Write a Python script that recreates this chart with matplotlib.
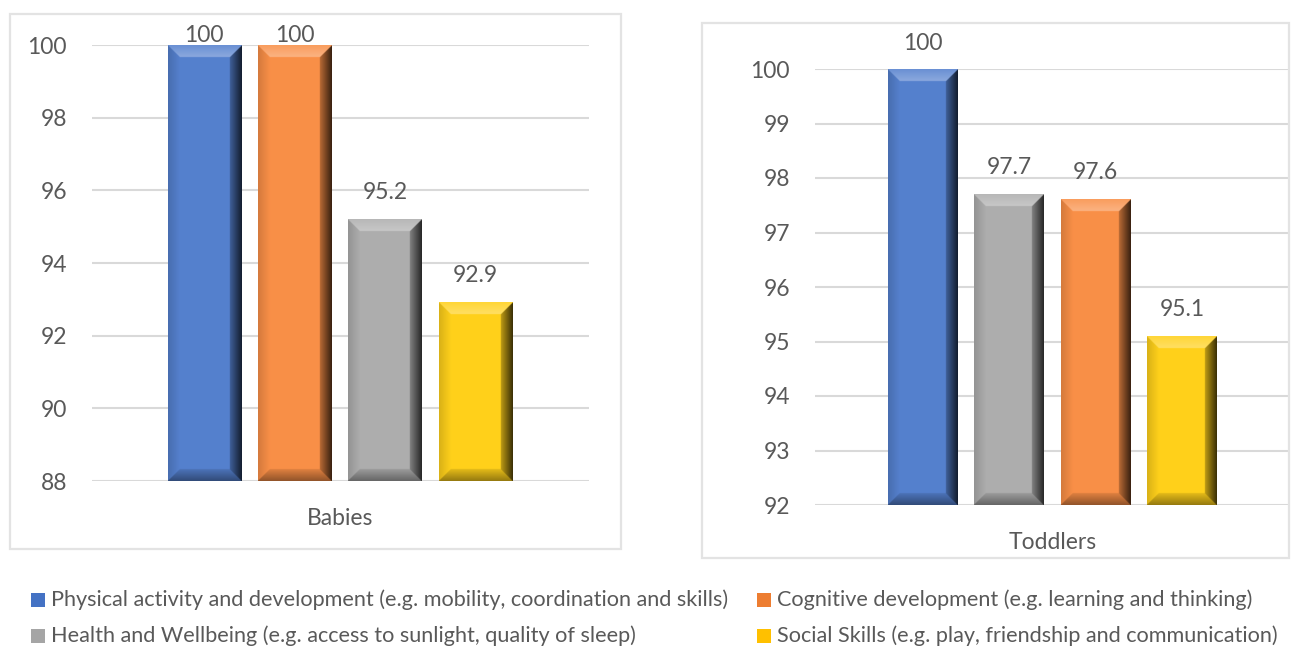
import numpy as np
import matplotlib
matplotlib.use("Agg")
import matplotlib.pyplot as plt
from matplotlib.colors import to_rgb
from matplotlib.patches import Rectangle

# Data
series = ["Physical activity and development (e.g. mobility, coordination and skills)",
          "Cognitive development (e.g. learning and thinking)",
          "Health and Wellbeing (e.g. access to sunlight, quality of sleep)",
          "Social Skills (e.g. play, friendship and communication)"]
colors = ["#4472C4", "#ED7D31", "#A5A5A5", "#FFC000"]

babies_series = [0, 1, 2, 3]
babies_values = [100, 100, 95.2, 92.9]
toddlers_series = [0, 2, 1, 3]
toddlers_values = [100, 97.7, 97.6, 95.1]

W, H = 1294, 650
TXT = "#595959"
GRID = "#D9D9D9"

plt.rcParams["font.family"] = ["Lato", "DejaVu Sans"]
fig = plt.figure(figsize=(W / 100, H / 100), dpi=100)


def px_rect(x0, y0, x1, y1):
    # image pixel box -> figure fraction rect
    return [x0 / W, (H - y1) / H, (x1 - x0) / W, (y1 - y0) / H]


def bevel_image(color, w, h, b=12, s=2):
    rgb = np.array(to_rgb(color))
    rgb = rgb * 0.9 + np.array([1.0, 1.0, 1.0]) * 0.1 * rgb.max()  # lit front face
    rgb = np.clip(rgb * 1.05, 0, 1)
    w, h, b = int(w * s), int(h * s), b * s
    ys, xs = np.mgrid[0:h, 0:w] + 0.5
    d = np.stack([h - ys, w - xs, ys, xs])  # top, right, bottom, left
    face = d.argmin(0)
    t = np.clip(d.min(0) / b, 0, 1)
    img = np.tile(rgb, (h, w, 1))
    inside = d.min(0) < b
    # (target, amount at edge, amount at inner side)
    shade = [(1.0, 0.12, 0.32), (0.0, 0.78, 0.25), (0.0, 0.42, 0.10), (0.0, 0.15, 0.0)]
    for k, (tgt, a0, a1) in enumerate(shade):
        m = inside & (face == k)
        amt = (a0 + (a1 - a0) * t[m])[:, None]
        img[m] = img[m] * (1 - amt) + tgt * amt
    return img


def draw_panel(ax_box, frame_box, ylim, ystep, xlim, cat, idx, vals):
    fig.add_artist(Rectangle((frame_box[0], frame_box[1]), frame_box[2], frame_box[3],
                             transform=fig.transFigure, fill=False, ec="#E3E3E3", lw=1.6))
    ax = fig.add_axes(ax_box)
    ax.set_xlim(*xlim)
    ax.set_ylim(*ylim)
    ax.set_yticks(np.arange(ylim[0], ylim[1] + 0.01, ystep))
    ax.yaxis.grid(True, color=GRID, lw=1.5, zorder=0)
    ax.set_axisbelow(True)
    for sp in ax.spines.values():
        sp.set_visible(False)
    ax.tick_params(axis="y", length=0, pad=18, labelsize=16.5, labelcolor=TXT)
    ax.set_xticks([0])
    ax.set_xticklabels([cat])
    ax.tick_params(axis="x", length=0, pad=19.5, labelsize=16.5, labelcolor=TXT)

    xs = np.arange(len(vals)) - (len(vals) - 1) / 2
    bars = ax.bar(xs, [v - ylim[0] for v in vals], width=0.81, bottom=ylim[0],
                  color=[colors[i] for i in idx], zorder=2)
    frame_top = (frame_box[1] + frame_box[3]) * H
    for rect, v, i in zip(bars, vals, idx):
        x0, x1 = rect.get_x(), rect.get_x() + rect.get_width()
        (px0, py0), (px1, py1) = ax.transData.transform([(x0, ylim[0]), (x1, v)])
        img = bevel_image(colors[i], px1 - px0, py1 - py0)
        ax.imshow(img, extent=(x0, x1, ylim[0], v), origin="lower", aspect="auto",
                  interpolation="bilinear", zorder=3)
        off = min(27, frame_top - 21 - py1)
        ax.annotate(f"{v:g}", xy=(rect.get_x() + rect.get_width() / 2, v),
                    xytext=(0, off * 0.72), textcoords="offset points",
                    ha="center", va="center", fontsize=16.5, color=TXT,
                    annotation_clip=False)
    ax.set_xlim(*xlim)
    ax.set_ylim(*ylim)
    return ax


draw_panel(px_rect(92, 45, 589, 481), px_rect(10, 14, 621, 549), (88, 100), 2,
           (-2.744, 2.760), "Babies", babies_series, babies_values)
draw_panel(px_rect(815, 69, 1288, 505), px_rect(702, 23, 1289, 558), (92, 100), 1,
           (-2.75, 2.725), "Toddlers", toddlers_series, toddlers_values)

# Legend (two columns, row-wise order as in the original)
leg_pos = [(31, 600), (757, 600), (31, 636), (757, 636)]
for (lx, ly), name, col in zip(leg_pos, series, colors):
    fig.add_artist(Rectangle((lx / W, (H - ly - 7) / H), 14 / W, 14 / H,
                             transform=fig.transFigure, color=col, lw=0))
    fig.text((lx + 20) / W, (H - ly) / H, name, ha="left", va="center",
             fontsize=15.6, color=TXT)

fig.savefig("out.png", dpi=100)
